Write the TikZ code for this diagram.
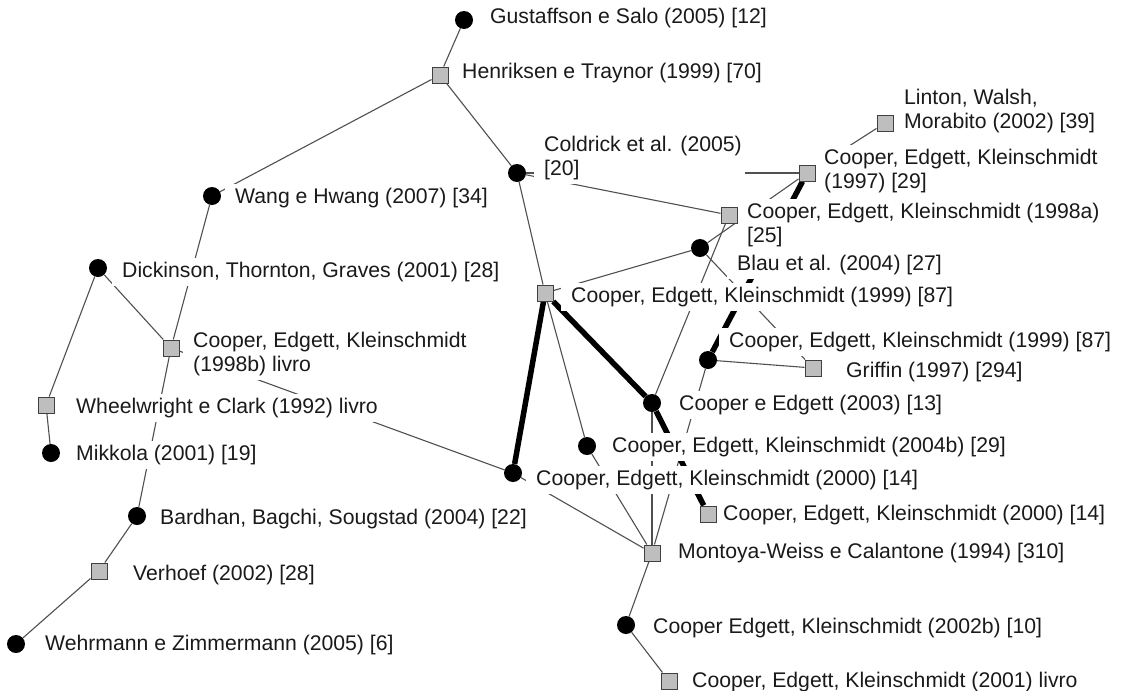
\documentclass[tikz,border=0pt]{standalone}
\usepackage{fontspec}
\setmainfont{Liberation Sans}
\definecolor{lgray}{HTML}{505050}
\definecolor{sqgray}{HTML}{BEBEBE}
\definecolor{sqborder}{HTML}{404040}
\definecolor{txt}{HTML}{1A1A1A}
\newcommand\lpad{\hspace*{7pt}}
\pgfdeclarelayer{edgelayer}
\pgfdeclarelayer{labellayer}
\pgfsetlayers{edgelayer,labellayer,main}
\tikzset{
 edge/.style={draw=lgray, line width=1.1pt},
 heavy/.style={draw=black, line width=5.5pt},
 dot/.style={circle, fill=black, minimum size=18pt, inner sep=0pt},
 sq/.style={rectangle, fill=sqgray, draw=sqborder, line width=1pt, minimum size=16pt, inner sep=0pt},
 lab/.style={anchor=west, fill=white, inner xsep=3pt, inner ysep=4pt, align=left, text=txt, font=\fontsize{21.2}{24.4}\selectfont, xshift=-10pt}
}
\begin{document}
\begin{tikzpicture}[x=1pt,y=-1pt]
\useasboundingbox (0,0) rectangle (1125,691);
% symbols (main layer, on top)
\node[dot] (gus) at (464,20) {};
\node[sq] (hen) at (440,75) {};
\node[dot] (wang) at (212,196) {};
\node[dot] (cold) at (517,173) {};
\node[sq] (lint) at (885,123) {};
\node[sq] (c97) at (807,173) {};
\node[sq] (c98a) at (729,215) {};
\node[dot] (blau) at (700,248) {};
\node[dot] (dick) at (98,268) {};
\node[sq] (c99) at (545,293) {};
\node[sq] (c98b) at (171,348) {};
\node[dot] (cc99b) at (708,360) {};
\node[sq] (grif) at (813,368) {};
\node[sq] (wheel) at (46,405) {};
\node[dot] (mik) at (51,453) {};
\node[dot] (ce03) at (652,403) {};
\node[dot] (c04b) at (587,446) {};
\node[dot] (c00c) at (513,473) {};
\node[dot] (bard) at (137,516) {};
\node[sq] (c00s) at (708,514) {};
\node[sq] (mont) at (652,553) {};
\node[sq] (verh) at (99,571) {};
\node[dot] (c02b) at (626,625) {};
\node[dot] (wehr) at (16,644) {};
\node[sq] (c01) at (669,681) {};
% connectors (bottom layer)
\begin{pgfonlayer}{edgelayer}
\fill[white] (0,0) rectangle (1125,691);
\draw[edge] (gus) -- (hen);
\draw[edge] (hen) -- (wang);
\draw[edge] (hen) -- (cold);
\draw[edge] (wang) -- (c98b);
\draw[edge] (dick) -- (c98b);
\draw[edge] (dick) -- (wheel);
\draw[edge] (wheel) -- (mik);
\draw[edge] (c98b) -- (bard);
\draw[edge] (bard) -- (verh);
\draw[edge] (verh) -- (wehr);
\draw[edge] (c98b) -- (c00c);
\draw[edge] (cold) -- (c99);
\draw[edge] (cold) -- (c98a);
\draw[edge] (cold) -- (c97);
\draw[edge] (c97) -- (lint);
\draw[edge] (c97) -- (blau);
\draw[edge] (c98a) -- (ce03);
\draw[edge] (blau) -- (c99);
\draw[edge] (blau) -- (grif);
\draw[edge] (cc99b) -- (grif);
\draw[edge] (cc99b) -- (mont);
\draw[edge] (c99) -- (c04b);
\draw[edge] (c04b) -- (mont);
\draw[edge] (ce03) -- (mont);
\draw[edge] (c00c) -- (mont);
\draw[edge] (mont) -- (c02b);
\draw[edge] (c02b) -- (c01);
\draw[heavy] (c97) -- (cc99b);
\draw[heavy] (c99) -- (c00c);
\draw[heavy] (c99) -- (ce03);
\draw[heavy] (ce03) -- (c00s);
\end{pgfonlayer}
% labels (middle layer: white boxes hide the lines behind them)
\begin{pgfonlayer}{labellayer}
\node[lab] (lgus) at (490,18) {\lpad Gustaffson e Salo (2005) [12]};
\node[lab] (lhen) at (462,73) {\lpad Henriksen e Traynor (1999) [70]};
\node[lab] (lwang) at (235,198) {\lpad Wang e Hwang (2007) [34]};
\node[lab] (lcold) at (544,158) {\lpad Coldrick et al. (2005)\\\lpad{}[20]};
\node[lab] (llint) at (904,111) {\lpad Linton, Walsh,\\\lpad Morabito (2002) [39]};
\node[lab] (lc97) at (824,171) {\lpad Cooper, Edgett, Kleinschmidt\\\lpad (1997) [29]};
\node[lab] (lc98a) at (747,225) {\lpad Cooper, Edgett, Kleinschmidt (1998a)\\\lpad{}[25]};
\node[lab] (lblau) at (737,265) {\lpad Blau et al. (2004) [27]};
\node[lab] (ldick) at (122,272) {\lpad Dickinson, Thornton, Graves (2001) [28]};
\node[lab] (lc99) at (571,297) {\lpad Cooper, Edgett, Kleinschmidt (1999) [87]};
\node[lab] (lc98b) at (193,354) {\lpad Cooper, Edgett, Kleinschmidt\\\lpad (1998b) livro};
\node[lab] (lcc99b) at (729,342) {\lpad Cooper, Edgett, Kleinschmidt (1999) [87]};
\node[lab] (lgrif) at (846,372) {\lpad Griffin (1997) [294]};
\node[lab] (lwheel) at (76,408) {\lpad Wheelwright e Clark (1992) livro};
\node[lab] (lmik) at (76,455) {\lpad Mikkola (2001) [19]};
\node[lab] (lce03) at (679,405) {\lpad Cooper e Edgett (2003) [13]};
\node[lab] (lc04b) at (612,447) {\lpad Cooper, Edgett, Kleinschmidt (2004b) [29]};
\node[lab] (lc00c) at (536,480) {\lpad Cooper, Edgett, Kleinschmidt (2000) [14]};
\node[lab] (lbard) at (160,519) {\lpad Bardhan, Bagchi, Sougstad (2004) [22]};
\node[lab] (lc00s) at (723,515) {\lpad Cooper, Edgett, Kleinschmidt (2000) [14]};
\node[lab] (lmont) at (678,553) {\lpad Montoya-Weiss e Calantone (1994) [310]};
\node[lab] (lverh) at (133,575) {\lpad Verhoef (2002) [28]};
\node[lab] (lc02b) at (653,628) {\lpad Cooper Edgett, Kleinschmidt (2002b) [10]};
\node[lab] (lwehr) at (45,645) {\lpad Wehrmann e Zimmermann (2005) [6]};
\node[lab] (lc01) at (692,682) {\lpad Cooper, Edgett, Kleinschmidt (2001) livro};
\end{pgfonlayer}
\end{tikzpicture}
\end{document}
